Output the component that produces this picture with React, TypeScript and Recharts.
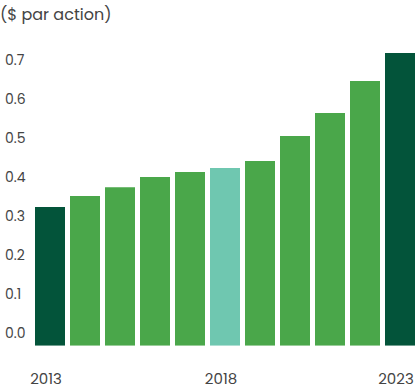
import React from 'react';
import { BarChart, Bar, XAxis, YAxis, Cell } from 'recharts';

const years = ['2013', '2014', '2015', '2016', '2017', '2018', '2019', '2020', '2021', '2022', '2023'];
const dividends = [0.323, 0.351, 0.374, 0.4, 0.413, 0.423, 0.441, 0.505, 0.564, 0.646, 0.718];
const barColors = ['#03543a', '#4aa74a', '#4aa74a', '#4aa74a', '#4aa74a', '#6fc7b0', '#4aa74a', '#4aa74a', '#4aa74a', '#4aa74a', '#03543a'];
const yTicks = [0, 0.1, 0.2, 0.3, 0.4, 0.5, 0.6, 0.7];

// bars start a little below the 0.0 label, as in the original
const AXIS_FLOOR = -0.0325;

const data = years.map((year, i) => ({ year, value: dividends[i] }));

const FONT = 'Poppins, "Noto Sans", sans-serif';

function YTick({ y, payload }: any) {
  return (
    <text x={5} y={y} dy={5} textAnchor="start" fill="#444" fontSize={14} fontFamily={FONT}>
      {payload.value.toFixed(1)}
    </text>
  );
}

export default function App() {
  return (
    <div style={{ position: 'absolute', left: 0, top: 0, width: 415, height: 392, overflow: 'hidden', background: '#fff' }}>
      <div style={{ position: 'absolute', left: 0, top: 2, fontSize: 16, color: '#444', fontFamily: FONT }}>
        ($ par action)
      </div>
      <BarChart
        width={420}
        height={392}
        data={data}
        margin={{ top: 40.5, right: 2.5, left: 0, bottom: 16.3 }}
        barCategoryGap={2.5}
      >
        <YAxis
          type="number"
          domain={[AXIS_FLOOR, 0.75]}
          ticks={yTicks}
          width={32.5}
          axisLine={false}
          tickLine={false}
          tick={<YTick />}
          allowDataOverflow
        />
        <XAxis
          dataKey="year"
          interval={4}
          height={30}
          axisLine={false}
          tickLine={false}
          tick={{ fill: '#444', fontSize: 15, fontFamily: FONT, dx: -4 }}
          tickMargin={22}
        />
        <Bar dataKey={(d: any) => [AXIS_FLOOR, d.value]} isAnimationActive={false}>
          {data.map((d, i) => (
            <Cell key={d.year} fill={barColors[i]} />
          ))}
        </Bar>
      </BarChart>
    </div>
  );
}
